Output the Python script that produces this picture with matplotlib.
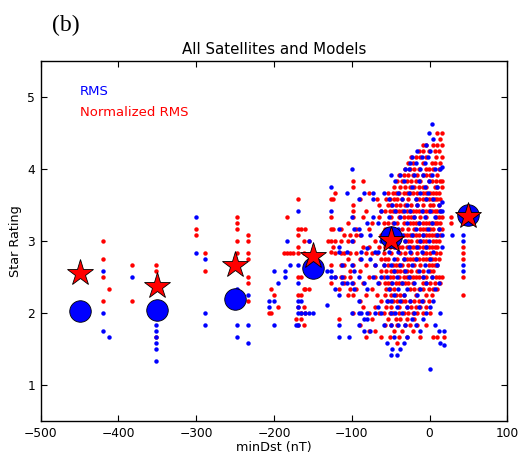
import matplotlib
matplotlib.use("Agg")
import matplotlib.pyplot as plt

# bin centres and the mean star ratings per bin
bins = [-450, -350, -250, -150, -50, 50]
rms_mean = [2.03, 2.04, 2.19, 2.62, 3.05, 3.36]
nrms_mean = [2.56, 2.37, 2.67, 2.79, 3.01, 3.35]

# individual events: (minDst, [star ratings])
blue_cols = [
    (-420, [2.58, 2.0, 1.75]), (-412, [1.67]), (-382, [2.5]),
    (-352, [2.08, 1.83, 1.75, 1.67, 1.58, 1.5, 1.33]),
    (-300, [3.33, 2.83]), (-289, [2.75, 2.0, 1.83]),
    (-247, [2.33, 1.83, 1.67]), (-234, [2.25, 1.83, 1.58]),
    (-207, [2.17, 2.08]), (-200, [2.58, 2.17, 1.83]), (-195, [2.42]),
    (-186, [2.58, 2.5]), (-183, [3.0]), (-180, [2.67]), (-172, [1.83]),
    (-169, [3.42, 2.67, 2.42, 2.17, 2.08, 2.0, 1.83]), (-165, [2.17, 2.0]),
    (-160, [2.0]), (-155, [3.0, 2.0]), (-150, [2.0]), (-132, [2.58, 2.11]),
    (-127, [3.75, 3.42, 2.58, 2.5]), (-122, [2.5, 2.33]),
    (-117, [3.17, 2.92, 2.84, 2.25, 1.83, 1.67]), (-112, [2.67, 2.5, 2.42]),
    (-106, [3.67, 2.84, 2.42]), (-104, [1.67]),
    (-100, [4.0, 3.33, 3.0, 2.67, 2.42, 2.0]), (-97, [3.17, 2.58, 2.33]),
    (-91, [3.58, 3.17, 2.5, 2.17, 2.0, 1.83]), (-88, [3.08, 2.84, 2.75, 2.0]),
    (-84, [3.67, 2.42, 1.92, 1.75]), (-80, [3.25, 2.9, 2.33, 2.0, 1.92]),
    (-76, [3.08, 2.75, 1.75]), (-73, [3.67, 3.58, 3.33, 2.5]),
    (-70, [2.84, 2.0, 2.67]), (-66, [3.25, 2.84, 2.42, 2.08]),
    (-62, [3.42, 3.0, 2.5, 2.0]),
    (-58, [3.67, 3.0, 2.67, 1.83]), (-55, [3.17, 2.5, 2.17, 1.58]),
    (-52, [3.58, 3.33, 2.84, 2.33]),
    (-50, [3.92, 3.0, 2.67, 2.17, 2.0, 1.83, 1.42]),
    (-48, [3.5, 3.08, 2.42, 1.5]), (-46, [3.25, 2.75, 2.58, 2.25, 1.67]),
    (-44, [3.83, 3.42, 2.92, 2.0]), (-42, [3.0, 2.5, 2.08, 1.42]),
    (-40, [3.67, 3.17, 2.84, 2.33, 1.83]), (-38, [3.92, 3.33, 2.67, 2.17, 1.5]),
    (-35, [3.58, 3.08, 2.42, 2.0]), (-33, [3.83, 3.42, 2.75, 2.25, 1.58]),
    (-31, [4.0, 3.0, 2.58, 1.83]), (-29, [3.5, 3.25, 2.33, 2.08, 1.67]),
    (-27, [4.0, 3.67, 2.92, 2.5]), (-25, [4.08, 3.42, 2.84, 2.17]),
    (-22, [4.17, 3.75, 3.08, 2.67, 1.92]), (-20, [3.92, 3.33, 2.42, 2.0]),
    (-18, [4.08, 3.58, 3.17, 2.75, 1.83]), (-16, [4.25, 3.5, 2.92, 2.25]),
    (-14, [3.83, 3.25, 2.58, 2.08]), (-12, [4.0, 3.67, 3.0, 2.33, 1.75]),
    (-10, [4.17, 3.42, 2.84, 2.17]), (-8, [3.92, 3.08, 2.5, 1.92]),
    (-6, [4.08, 3.75, 3.33, 2.67]), (-4, [4.33, 3.58, 2.92, 2.42, 2.0]),
    (-2, [4.17, 3.67, 3.17, 2.58]), (-1, [4.5, 3.83, 3.0]),
    (1, [4.25, 3.42, 2.75, 2.08, 1.22]), (3, [4.62, 3.92, 3.25, 2.5]),
    (5, [4.42, 3.58, 2.84, 2.17]), (7, [4.0, 3.33, 2.33, 1.83]),
    (9, [3.75, 3.08, 2.67]), (12, [3.5, 3.17, 2.42, 1.75]),
    (14, [4.0, 3.42, 2.0, 1.58]), (16, [4.02, 3.54, 3.42, 3.08, 2.92]),
    (18, [1.75, 1.55]), (29, [3.08]), (43, [3.08, 3.0, 2.67, 2.58]),
]

red_cols = [
    (-420, [3.0, 2.75, 2.5, 2.17]), (-412, [2.33]), (-382, [2.67, 2.17]),
    (-352, [2.67, 2.58, 1.67]), (-300, [3.17, 3.08]), (-289, [2.83, 2.58]),
    (-247, [3.33, 3.25, 3.17, 3.0, 2.83]),
    (-234, [3.08, 3.0, 2.83, 2.75, 2.5, 2.42, 2.17]),
    (-207, [2.0]), (-204, [2.33, 2.0]), (-200, [2.25]), (-195, [2.08]),
    (-187, [2.83]), (-183, [3.33, 2.83]), (-180, [2.83]), (-175, [2.83]),
    (-172, [1.92]),
    (-169, [3.58, 3.17, 3.08, 2.92, 2.83, 2.5, 2.25, 2.08, 1.83]),
    (-165, [3.17, 2.5, 2.25, 2.0, 1.92]), (-162, [3.0, 2.83, 2.33, 2.08, 1.83]),
    (-160, [3.17, 2.33, 2.0]), (-155, [3.0, 2.33]), (-131, [3.0]),
    (-127, [3.58, 3.33, 3.17, 3.0, 2.84, 2.67, 2.42]), (-124, [3.58, 3.17, 2.92]),
    (-121, [3.67, 3.0, 2.83, 2.5]), (-117, [2.33, 1.92]),
    (-114, [3.17, 3.0, 2.83, 2.67, 2.5]), (-110, [3.08, 2.83, 2.5, 2.42, 2.67]),
    (-105, [3.25, 3.0, 2.75, 2.25]), (-102, [3.08, 2.83, 2.58, 2.5, 2.33]),
    (-99, [3.83, 3.75, 3.5, 3.42, 3.33, 3.0, 2.67, 2.42, 2.25, 2.0]),
    (-95, [2.33, 2.83, 3.17, 3.08]),
    (-90, [1.83, 2.17, 2.58, 2.75, 3.08, 3.58]),
    (-86, [2.08, 2.42, 2.92, 3.33, 3.83]),
    (-82, [1.67, 2.25, 2.67, 2.83, 3.42]),
    (-78, [1.75, 2.0, 2.5, 2.92, 3.17, 3.67]),
    (-74, [1.92, 2.33, 2.83, 3.25]), (-70, [1.75, 2.08, 2.5, 2.67, 3.0]),
    (-67, [2.25, 2.83, 3.58]), (-65, [2.0, 2.42, 2.92, 3.33, 3.5]),
    (-62, [1.67, 2.17, 2.58, 2.75, 3.08, 3.42]),
    (-59, [2.0, 2.5, 2.67, 2.83, 3.0, 3.25]),
    (-57, [1.83, 2.25, 2.42, 2.75, 2.92, 3.17, 3.42]),
    (-56, [2.08, 2.33, 2.58, 3.08, 3.58]),
    (-53, [1.92, 2.17, 2.42, 2.67, 2.75, 3.0, 3.25, 3.5, 3.67]),
    (-51, [1.67, 2.0, 2.33, 2.5, 2.92, 3.17, 3.42, 3.58]),
    (-49, [1.83, 2.08, 2.25, 2.42, 2.58, 2.83, 3.08, 3.33, 3.5]),
    (-47, [2.0, 2.17, 2.5, 2.67, 3.0, 3.25, 3.42, 3.67]),
    (-46, [1.75, 2.33, 2.58, 2.92, 3.17, 3.58, 3.75]),
    (-43, [1.92, 2.25, 2.42, 2.67, 3.0, 3.08, 3.42, 3.5, 3.67]),
    (-42, [1.58, 1.83, 2.17, 2.58, 2.75, 3.25, 3.58, 3.83]),
    (-39, [1.67, 2.0, 2.08, 2.42, 2.5, 2.67, 2.92, 3.33, 3.42, 3.67, 3.92]),
    (-38, [1.92, 2.25, 2.58, 2.83, 3.08, 3.5, 3.75]),
    (-36, [1.75, 2.17, 2.42, 2.67, 2.92, 3.17, 3.42, 3.58, 3.83]),
    (-33, [2.0, 2.25, 2.5, 2.58, 2.75, 3.08, 3.25, 3.33, 3.67, 3.92]),
    (-32, [1.83, 2.17, 2.42, 2.83, 3.0, 3.5, 3.75, 4.0]),
    (-29, [1.67, 1.92, 2.08, 2.5, 2.58, 2.75, 2.92, 3.08, 3.42, 3.67, 3.83]),
    (-28, [2.0, 2.42, 2.67, 3.0, 3.17, 3.33, 3.58, 3.92, 4.08]),
    (-25, [1.83, 2.17, 2.33, 2.5, 2.75, 2.92, 3.08, 3.25, 3.42, 3.67, 3.75, 4.0]),
    (-24, [2.08, 2.58, 2.83, 3.0, 3.33, 3.5, 3.83, 4.17]),
    (-21, [1.75, 2.0, 2.42, 2.5, 2.75, 2.92, 3.08, 3.25, 3.42, 3.67, 3.92, 4.08]),
    (-20, [1.92, 2.17, 2.33, 2.67, 3.17, 3.33, 3.75, 4.0]),
    (-17, [2.08, 2.25, 2.5, 2.75, 2.92, 3.08, 3.25, 3.42, 3.58, 3.83, 4.17]),
    (-16, [1.83, 2.0, 2.58, 2.83, 3.0, 3.5, 3.67, 3.92]),
    (-13, [2.17, 2.33, 2.5, 2.75, 2.92, 3.08, 3.25, 3.42, 3.58, 3.75, 4.0, 4.25]),
    (-12, [1.67, 2.08, 2.67, 3.0, 3.17, 3.33, 3.83, 4.17]),
    (-9, [2.0, 2.42, 2.5, 2.75, 2.92, 3.08, 3.25, 3.42, 3.58, 3.75, 3.92, 4.33]),
    (-8, [2.17, 2.33, 2.58, 2.83, 3.0, 3.17, 3.5, 3.67, 4.08, 4.25]),
    (-5, [1.83, 2.25, 2.42, 2.75, 2.92, 3.08, 3.25, 3.42, 3.58, 3.75, 4.0, 4.17]),
    (-4, [2.08, 2.5, 2.83, 3.0, 3.17, 3.33, 3.67, 3.92, 4.33]),
    (-1, [2.17, 2.33, 2.67, 2.75, 2.92, 3.08, 3.25, 3.42, 3.58, 3.83, 4.0, 4.25]),
    (0, [2.0, 2.42, 2.58, 2.83, 3.17, 3.5, 3.67, 3.92]),
    (3, [2.25, 2.5, 2.67, 2.75, 2.92, 3.08, 3.25, 3.42, 3.58, 3.83, 4.08]),
    (4, [1.67, 2.33, 2.58, 3.0, 3.17, 3.5, 3.67, 4.0, 4.33]),
    (7, [2.42, 2.67, 2.75, 2.92, 3.08, 3.25, 3.42, 3.58, 3.75, 4.08, 4.25]),
    (8, [2.5, 2.83, 3.0, 3.33, 3.67, 3.83, 4.17]),
    (10, [1.67, 2.33, 2.67, 2.92, 3.08, 3.25, 3.42, 3.58, 3.75, 3.92, 4.33, 4.5]),
    (12, [2.5, 2.75, 3.0, 3.17, 3.33, 3.5, 3.67, 4.0, 4.25]),
    (14, [2.42, 2.83, 3.08, 3.25, 3.42, 3.58, 3.83, 4.08, 4.42]),
    (16, [2.5, 3.17, 3.33, 3.75, 3.83, 4.17, 4.33, 4.5]),
    (18, [1.67]), (28, [3.33, 3.25]), (43, [2.92, 2.83, 2.75, 2.5, 2.25]),
]


def flatten(cols):
    xs, ys = [], []
    for x, yl in cols:
        xs += [x] * len(yl)
        ys += yl
    return xs, ys


bx, by = flatten(blue_cols)
rx, ry = flatten(red_cols)

fig = plt.figure(figsize=(5.23, 4.55), dpi=100)
ax = fig.add_axes([0.0778, 0.0747, 0.8922, 0.7919])

ax.plot(rx, ry, 'o', color='red', markersize=3.2, markeredgewidth=0, zorder=2)
ax.plot(bx, by, 'o', color='blue', markersize=3.2, markeredgewidth=0, zorder=2)

ax.plot(bins, rms_mean, 'o', color='blue', markersize=15.5,
        markeredgecolor='black', markeredgewidth=0.6, zorder=3)
ax.plot(bins, nrms_mean, '*', color='red', markersize=20,
        markeredgecolor='black', markeredgewidth=0.6, zorder=4)

ax.text(-450, 5.07, 'RMS', color='blue', fontsize=9.5, va='center', ha='left')
ax.text(-450, 4.78, 'Normalized RMS', color='red', fontsize=9.5, va='center', ha='left')

ax.set_xlim(-500, 100)
ax.set_ylim(0.5, 5.5)
ax.set_xticks([-500, -400, -300, -200, -100, 0, 100])
ax.set_yticks([1, 2, 3, 4, 5])
ax.tick_params(direction='in', top=True, right=True, length=4, width=0.8,
               labelsize=8.8, pad=4)
for s in ax.spines.values():
    s.set_linewidth(1.0)

ax.set_xlabel('minDst (nT)', fontsize=9.2, labelpad=1)
ax.set_ylabel('Star Rating', fontsize=9.2, labelpad=4)
ax.set_title('All Satellites and Models', fontsize=10.8, pad=5)

fig.text(0.126, 0.945, '(b)', family='Liberation Serif', fontsize=17,
         ha='center', va='center')

fig.savefig('out.png', dpi=100)
